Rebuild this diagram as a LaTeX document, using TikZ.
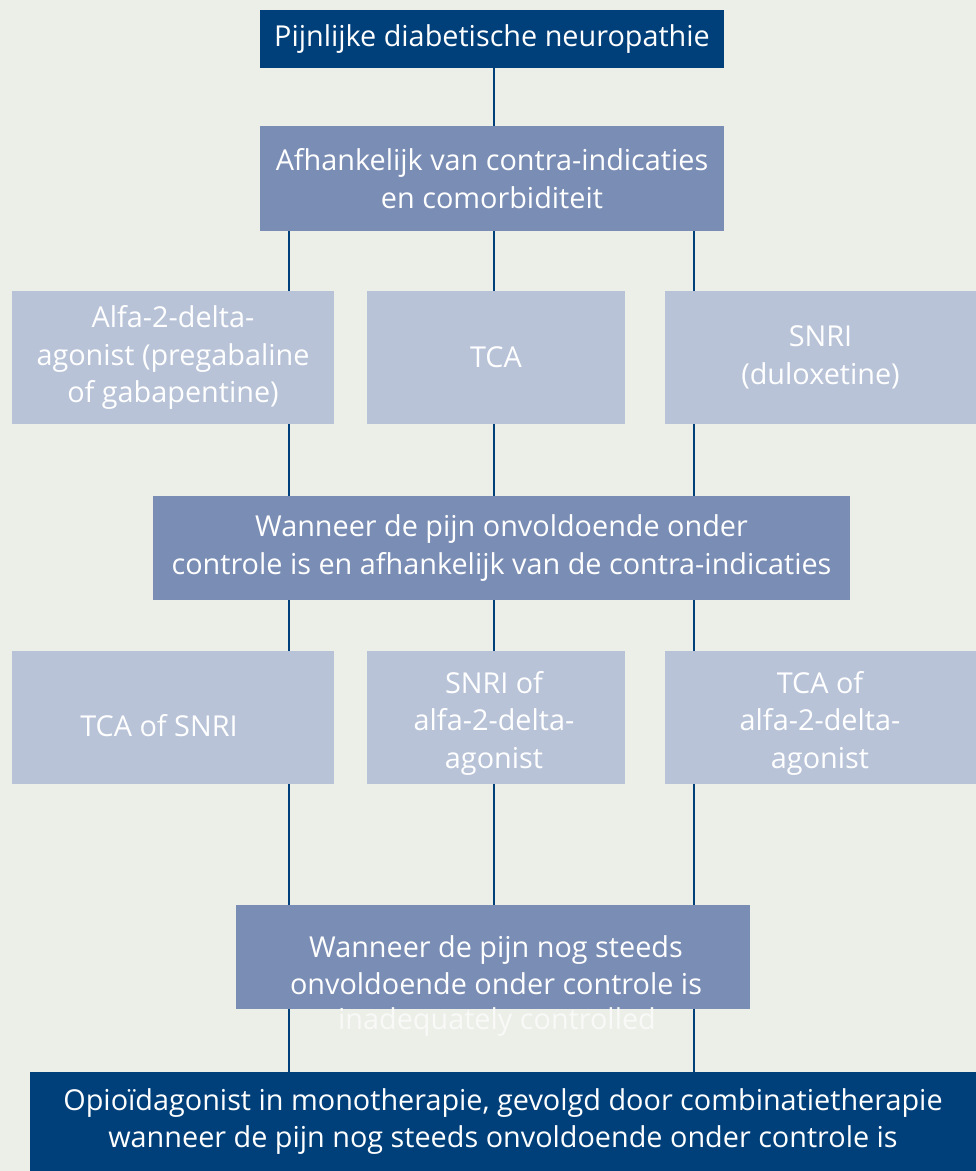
\documentclass[tikz,border=0pt]{standalone}
\usepackage{fontspec}
\setmainfont{Open Sans}
\definecolor{bg}{HTML}{ECEEE8}
\definecolor{navy}{HTML}{00407A}
\definecolor{midblue}{HTML}{7A8DB4}
\definecolor{lightblue}{HTML}{B8C3D8}
\tikzset{
  box/.style={inner sep=0pt, text=white, align=center, font=\fontsize{28.8}{37.5}\selectfont},
  darkbox/.style={box, fill=navy},
  midbox/.style={box, fill=midblue},
  lightbox/.style={box, fill=lightblue},
  lbl/.style={box},
  conn/.style={draw=navy, line width=2pt}
}
\begin{document}
\begin{tikzpicture}[x=1pt,y=-1pt]
\fill[bg] (0,0) rectangle (976,1171);
\useasboundingbox (0,0) rectangle (976,1171);
% columns for connectors
\coordinate (cL) at (289,0);
\coordinate (cM) at (494,0);
\coordinate (cR) at (694,0);
% boxes
\node[darkbox, minimum width=464pt, minimum height=58pt] (top) at (492,39) {Pijnlijke diabetische neuropathie};
\node[midbox, minimum width=464pt, minimum height=105pt] (dep) at (492,178.5) {Afhankelijk van contra-indicaties\\en comorbiditeit};
\node[lightbox, minimum width=322pt, minimum height=133pt] (a1) at (173,357.5) {Alfa-2-delta-\\agonist (pregabaline\\of gabapentine)};
\node[lightbox, minimum width=258pt, minimum height=133pt] (a2) at (496,357.5) {TCA};
\node[lightbox, minimum width=311pt, minimum height=133pt] (a3) at (820.5,357.5) {SNRI\\(duloxetine)};
\node[midbox, minimum width=697pt, minimum height=104pt] (w1) at (501.5,548) {Wanneer de pijn onvoldoende onder\\controle is en afhankelijk van de contra-indicaties};
\node[lightbox, minimum width=322pt, minimum height=133pt] (b1) at (173,717.5) {};
\node[lightbox, minimum width=258pt, minimum height=133pt] (b2) at (496,717.5) {};
\node[lightbox, minimum width=311pt, minimum height=133pt] (b3) at (820.5,717.5) {};
\node[lbl] (b1t) at (159,726) {TCA of SNRI};
\node[lbl] (b2t) at (494,723) {SNRI of\\alfa-2-delta-\\agonist};
\node[lbl] (b3t) at (820,723) {TCA of\\alfa-2-delta-\\agonist};
\node[midbox, minimum width=514pt, minimum height=104pt] (w2) at (493,957) {};
\node[lbl] (w2t) at (496,965) {Wanneer de pijn nog steeds\\onvoldoende onder controle is};
\node[lbl, text=white!70!bg] (w2x) at (497,1022) {inadequately controlled};
\node[darkbox, minimum width=946pt, minimum height=99pt] (fin) at (503,1121.5) {Opioïdagonist in monotherapie, gevolgd door combinatietherapie\\wanneer de pijn nog steeds onvoldoende onder controle is};
% connectors
\draw[conn] (top.south -| cM) -- (dep.north -| cM);
\foreach \c in {cL,cM,cR}{
  \draw[conn] (dep.south -| \c) -- (a2.north -| \c);
  \draw[conn] (a2.south -| \c) -- (w1.north -| \c);
  \draw[conn] (w1.south -| \c) -- (b2.north -| \c);
  \draw[conn] (b2.south -| \c) -- (w2.north -| \c);
}
\draw[conn] (w2.south -| cL) -- (fin.north -| cL);
\draw[conn] (w2.south -| cR) -- (fin.north -| cR);
\end{tikzpicture}
\end{document}
